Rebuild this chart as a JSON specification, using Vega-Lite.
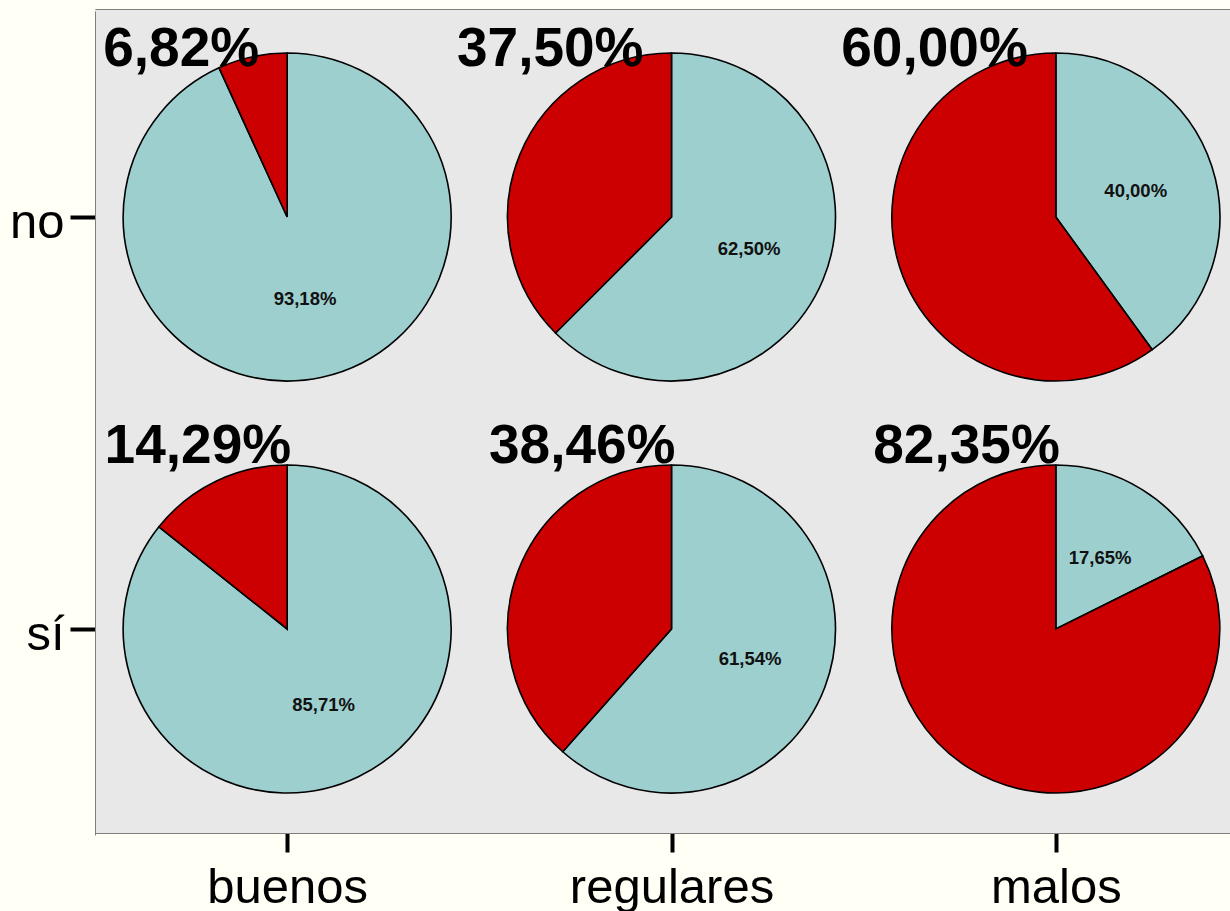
{
  "$schema": "https://vega.github.io/schema/vega-lite/v6.json",
  "autosize": "none",
  "padding": {"left": 95, "top": 9, "right": 0, "bottom": 78},
  "width": 1135,
  "height": 824,
  "background": "#fffff6",
  "data": {
    "values": [
      {"col": "buenos", "row": "no", "red": 0.0682, "blue": 0.9318},
      {"col": "regulares", "row": "no", "red": 0.3750, "blue": 0.6250},
      {"col": "malos", "row": "no", "red": 0.6000, "blue": 0.4000},
      {"col": "buenos", "row": "sí", "red": 0.1429, "blue": 0.8571},
      {"col": "regulares", "row": "sí", "red": 0.3846, "blue": 0.6154},
      {"col": "malos", "row": "sí", "red": 0.8235, "blue": 0.1765}
    ]
  },
  "transform": [
    {"fold": ["blue", "red"], "as": ["key", "value"]},
    {"stack": "value", "groupby": ["col", "row"], "sort": [{"field": "key", "order": "ascending"}], "as": ["v0", "v1"]}
  ],
  "encoding": {
    "x": {
      "field": "col",
      "type": "nominal",
      "scale": {"type": "point", "domain": ["buenos", "regulares", "malos"], "range": [0, 1153], "padding": 0.5}
    },
    "y": {
      "field": "row",
      "type": "nominal",
      "scale": {"type": "point", "domain": ["no", "sí"], "range": [2, 826], "padding": 0.5},
      "axis": {"title": null}
    }
  },
  "layer": [
    {
      "mark": {"type": "arc", "outerRadius": 164, "stroke": "#000000", "strokeWidth": 1.6},
      "encoding": {
        "x": {
          "field": "col", "type": "nominal",
          "axis": {"orient": "bottom", "title": null, "labelAngle": 0, "labelFontSize": 49, "labelFont": "Liberation Sans", "labelColor": "#000000", "labelLimit": 0, "tickColor": "#000000", "tickWidth": 4, "tickSize": 19, "labelPadding": 11, "domainColor": "#7f7f7f", "domainWidth": 1, "grid": false}
        },
        "theta": {"field": "v0", "type": "quantitative", "stack": null, "scale": {"domain": [0, 1], "range": [0, 6.283185]}},
        "theta2": {"field": "v1"},
        "fill": {"field": "key", "type": "nominal", "scale": {"domain": ["blue", "red"], "range": ["#9ecfcf", "#cc0000"]}, "legend": null}
      }
    },
    {
      "transform": [{"filter": "datum.key === 'blue'"}],
      "mark": {"type": "text", "radius": 84, "align": "center", "baseline": "middle", "font": "Liberation Sans", "fontSize": 18.5, "fontWeight": "bold", "color": "#111111"},
      "encoding": {
        "x": {
          "field": "col", "type": "nominal",
          "axis": {"orient": "top", "title": null, "labels": false, "ticks": false, "domainColor": "#7f7f7f", "domainWidth": 1, "grid": false}
        },
        "theta": {"field": "value", "type": "quantitative", "stack": null, "scale": {"domain": [0, 1], "range": [0, 3.1415927]}},
        "text": {"field": "value", "type": "quantitative", "format": ".2%"}
      }
    },
    {
      "transform": [{"filter": "datum.key === 'red' && datum.row === 'no'"}],
      "mark": {"type": "text", "align": "right", "baseline": "alphabetic", "dx": -28, "dy": -151, "font": "Liberation Sans", "fontSize": 55, "fontWeight": "bold", "color": "#000000"},
      "encoding": {
        "x": {"field": "col", "type": "nominal", "axis": null},
        "text": {"field": "value", "type": "quantitative", "format": ".2%"}
      }
    },
    {
      "transform": [{"filter": "datum.key === 'red' && datum.row === 'sí'"}],
      "mark": {"type": "text", "align": "right", "baseline": "alphabetic", "dx": 4, "dy": -166, "font": "Liberation Sans", "fontSize": 55, "fontWeight": "bold", "color": "#000000"},
      "encoding": {
        "x": {"field": "col", "type": "nominal", "axis": null},
        "text": {"field": "value", "type": "quantitative", "format": ".2%"}
      }
    }
  ],
  "resolve": {"scale": {"theta": "independent"}, "axis": {"x": "independent"}},
  "config": {
    "locale": {"number": {"decimal": ",", "thousands": ".", "grouping": [3], "currency": ["", " €"]}},
    "view": {"fill": "#e8e8e8", "stroke": null},
    "axisY": {"labelFontSize": 49, "labelFont": "Liberation Sans", "labelColor": "#000000", "labelOffset": 5, "tickColor": "#000000", "tickWidth": 4, "tickSize": 25, "labelPadding": 6, "domainColor": "#7f7f7f", "domainWidth": 1, "grid": false, "title": null}
  }
}
